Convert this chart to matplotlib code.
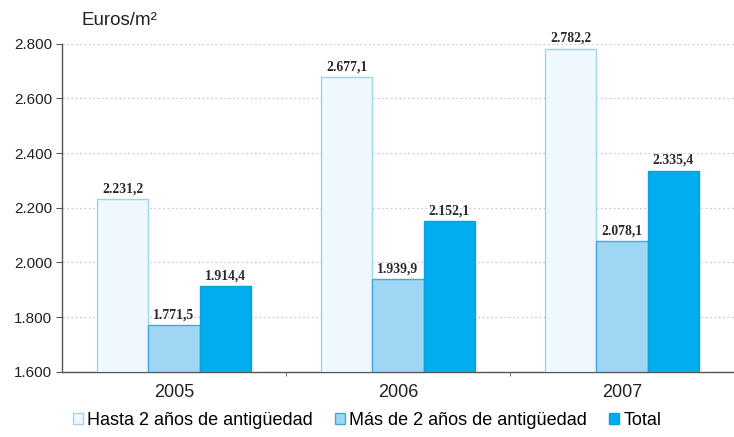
import numpy as np
import matplotlib.pyplot as plt
from matplotlib.patches import Patch

years = ['2005', '2006', '2007']
series_names = ['Hasta 2 años de antigüedad', 'Más de 2 años de antigüedad', 'Total']
hasta_2 = [2231.2, 2677.1, 2782.2]
mas_de_2 = [1771.5, 1939.9, 2078.1]
total = [1914.4, 2152.1, 2335.4]
yticks = [1600, 1800, 2000, 2200, 2400, 2600, 2800]

fills = ['#eef8fe', '#9fd6f4', '#00aeef']
edges = ['#9fd3ee', '#4aa6d2', '#0a9fd8']


def fmt_es(v, dec=1):
    s = f'{v:,.{dec}f}'
    return s.replace(',', 'X').replace('.', ',').replace('X', '.')


fig = plt.figure(figsize=(7.34, 4.37), dpi=100)
ax = fig.add_axes([0.0845, 0.149, 0.9155, 0.751])

x = np.arange(len(years))
w = 0.228
for i, vals in enumerate([hasta_2, mas_de_2, total]):
    pos = x + (i - 1) * w
    ax.bar(pos, np.array(vals) - 1600, w, bottom=1600, color=fills[i],
           edgecolor=edges[i], linewidth=1.0, zorder=3)
    for px, v in zip(pos, vals):
        ax.text(px, v + 14, fmt_es(v), ha='center', va='bottom',
                family='Liberation Serif', fontsize=9.8, color='#2a2a2a',
                fontweight='bold', zorder=4)

ax.set_xlim(-0.5, 2.5)
ax.set_ylim(1600, 2800)
ax.set_yticks(yticks)
ax.set_yticklabels([fmt_es(t, 0) for t in yticks], family='Liberation Sans',
                   fontsize=11, color='#222222')
ax.set_xticks(x)
ax.set_xticklabels(years, family='Liberation Sans', fontsize=13, color='#222222')
ax.set_xticks([0.5, 1.5], minor=True)
ax.tick_params(axis='x', which='major', length=0, pad=9)
ax.tick_params(axis='x', which='minor', length=3, color='#555555')
ax.tick_params(axis='y', length=4, color='#555555', pad=3)

for t in yticks[1:]:
    ax.axhline(t, color='#cccccc', linestyle=(0, (1.5, 2)), linewidth=0.9, zorder=1)

for s in ['top', 'right']:
    ax.spines[s].set_visible(False)
for s in ['left', 'bottom']:
    ax.spines[s].set_color('#555555')
    ax.spines[s].set_linewidth(1.0)

fig.text(0.111, 0.953, 'Euros/m²', family='Liberation Sans', fontsize=13.5,
         color='#222222', ha='left', va='center')

handles = [Patch(facecolor=fills[i], edgecolor=edges[i], linewidth=1.0)
           for i in range(3)]
fig.legend(handles, series_names, loc='center', bbox_to_anchor=(0.5, 0.038),
           ncol=3, frameon=False, handlelength=0.55, handleheight=0.55,
           handletextpad=0.25, columnspacing=1.2,
           prop={'family': 'Liberation Sans', 'size': 13})

fig.savefig('out.png', dpi=100)
